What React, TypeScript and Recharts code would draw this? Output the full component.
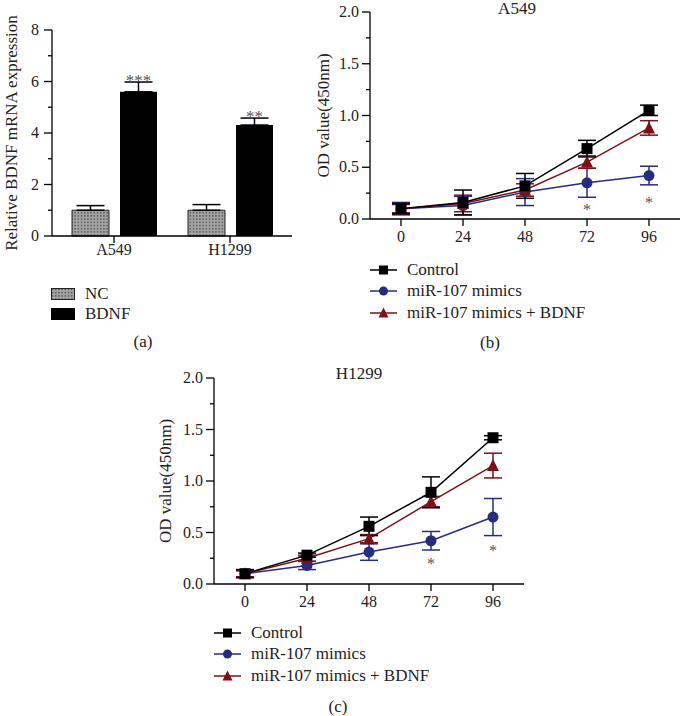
import {
  BarChart,
  Bar,
  ComposedChart,
  Line,
  XAxis,
  YAxis,
  ErrorBar,
  LabelList,
} from "recharts";

const FONT = "'Liberation Serif', 'Times New Roman', serif";
const BLACK = "#000000";
const NAVY = "#262c7e";
const DARKRED = "#7a1217";

// panel (a)
const cellLines = ["A549", "H1299"];
const ncValues = [1.0, 1.0];
const ncErrors = [0.18, 0.22];
const bdnfValues = [5.6, 4.31];
const bdnfErrors = [0.38, 0.27];
const bdnfSig = ["***", "**"];
const barTicks = [0, 1, 2, 3, 4, 5, 6, 7, 8];

// panels (b) and (c)
const hours = [0, 24, 48, 72, 96];
const odTicks = [0, 0.25, 0.5, 0.75, 1, 1.25, 1.5, 1.75, 2];
const hourTicks = [0, 24, 48, 72, 96];

const a549Control = [0.1, 0.16, 0.32, 0.68, 1.05];
const a549ControlErr = [0.05, 0.12, 0.12, 0.08, 0.05];
const a549Mimics = [0.1, 0.13, 0.26, 0.35, 0.42];
const a549MimicsErr = [0.06, 0.09, 0.13, 0.14, 0.09];
const a549Bdnf = [0.1, 0.15, 0.28, 0.55, 0.88];
const a549BdnfErr = [0.04, 0.08, 0.06, 0.06, 0.07];
const a549Star = [null, null, null, 0.14, 0.2];

const h1299Control = [0.1, 0.28, 0.56, 0.89, 1.42];
const h1299ControlErr = [0.04, 0.02, 0.09, 0.15, 0.02];
const h1299Mimics = [0.1, 0.18, 0.31, 0.42, 0.65];
const h1299MimicsErr = [0.03, 0.04, 0.08, 0.09, 0.18];
const h1299Bdnf = [0.1, 0.25, 0.44, 0.8, 1.15];
const h1299BdnfErr = [0.03, 0.03, 0.04, 0.05, 0.12];
const h1299Star = [null, null, null, 0.24, 0.37];

const legendItems = [
  { name: "Control", color: BLACK, shape: "square" },
  { name: "miR-107 mimics", color: NAVY, shape: "circle" },
  { name: "miR-107 mimics + BDNF", color: DARKRED, shape: "triangle" },
];

const barData = cellLines.map((c, i) => ({
  cell: c,
  nc: ncValues[i],
  ncErr: [0, ncErrors[i]],
  bdnf: bdnfValues[i],
  bdnfErr: [0, bdnfErrors[i]],
  sig: bdnfSig[i],
}));

function buildOd(control, cErr, mimics, mErr, bdnf, bErr, star) {
  return hours.map((t, i) => ({
    t,
    control: control[i],
    controlErr: cErr[i],
    mimics: mimics[i],
    mimicsErr: mErr[i],
    bdnf: bdnf[i],
    bdnfErr: bErr[i],
    star: star[i],
  }));
}

const a549Data = buildOd(a549Control, a549ControlErr, a549Mimics, a549MimicsErr, a549Bdnf, a549BdnfErr, a549Star);
const h1299Data = buildOd(h1299Control, h1299ControlErr, h1299Mimics, h1299MimicsErr, h1299Bdnf, h1299BdnfErr, h1299Star);

// y tick with long/short tick line, label only on majors
function makeYTick(isMajor, fmt, labelGap) {
  return (props) => {
    const { x, y, payload } = props;
    const major = isMajor(payload.value);
    return (
      <g>
        <line x1={x} x2={x - (major ? 8 : 4)} y1={y} y2={y} stroke="#000" strokeWidth={1.3} />
        {major && (
          <text x={x - labelGap} y={y} dy={5} textAnchor="end" fontFamily={FONT} fontSize={16} fill="#222">
            {fmt(payload.value)}
          </text>
        )}
      </g>
    );
  };
}

function Marker({ shape, cx, cy, color, size }) {
  if (cx == null || cy == null) return null;
  const h = size / 2;
  if (shape === "square") return <rect x={cx - h} y={cy - h} width={size} height={size} fill={color} />;
  if (shape === "circle") return <circle cx={cx} cy={cy} r={h} fill={color} />;
  return <path d={`M${cx},${cy - h - 1} L${cx + h + 0.5},${cy + h} L${cx - h - 0.5},${cy + h} Z`} fill={color} />;
}

function markerDot(shape, color) {
  return (p) => (
    <Marker key={`${shape}-${p.index}`} shape={shape} cx={p.cx} cy={p.cy} color={color} size={11} />
  );
}

function starDot(p) {
  if (p.value == null || p.cy == null) return <g key={`st-${p.index}`} />;
  return (
    <text key={`st-${p.index}`} x={p.cx} y={p.cy} dy={10} textAnchor="middle" fontFamily={FONT} fontSize={16} fill="#555" stroke="none">
      *
    </text>
  );
}

// significance marks above the upper error cap
function sigLabel(p) {
  const i = p.index;
  const pxPerUnit = p.height / bdnfValues[i];
  const capY = p.y - bdnfErrors[i] * pxPerUnit;
  return (
    <text key={`sig-${i}`} x={p.x + p.width / 2} y={capY + 4} textAnchor="middle" fontFamily={FONT} fontSize={17} fill="#555">
      {p.value}
    </text>
  );
}

function OdChart({ data, left, top, height, labelOffset }) {
  const axisStyle = { stroke: "#000", strokeWidth: 1.3 };
  return (
    <div style={{ position: "absolute", left, top }}>
      <ComposedChart width={391} height={height} data={data} margin={{ top: 12, right: 1, bottom: 0, left: 0 }}>
        <XAxis
          dataKey="t"
          type="number"
          domain={[-12, 108]}
          ticks={hourTicks}
          height={31}
          tickSize={7}
          tickMargin={5}
          axisLine={axisStyle}
          tickLine={axisStyle}
          tick={{ fontFamily: FONT, fontSize: 16, fill: "#222" }}
        />
        <YAxis
          type="number"
          domain={[0, 2]}
          ticks={odTicks}
          width={80}
          tickSize={0}
          tickMargin={0}
          axisLine={axisStyle}
          tickLine={false}
          interval={0}
          tick={makeYTick((v) => Math.abs(v * 2 - Math.round(v * 2)) < 1e-6, (v) => v.toFixed(1), 11)}
          label={{
            value: "OD value(450nm)",
            angle: -90,
            position: "insideLeft",
            offset: labelOffset,
            style: { textAnchor: "middle", fontFamily: FONT, fontSize: 17, fill: "#222" },
          }}
        />
        <Line dataKey="star" stroke="none" dot={starDot} isAnimationActive={false} legendType="none" />
        <Line dataKey="mimics" stroke={NAVY} strokeWidth={1.5} dot={markerDot("circle", NAVY)} isAnimationActive={false}>
          <ErrorBar dataKey="mimicsErr" direction="y" width={9} stroke={NAVY} strokeWidth={1.5} />
        </Line>
        <Line dataKey="bdnf" stroke={DARKRED} strokeWidth={1.5} dot={markerDot("triangle", DARKRED)} isAnimationActive={false}>
          <ErrorBar dataKey="bdnfErr" direction="y" width={9} stroke={DARKRED} strokeWidth={1.5} />
        </Line>
        <Line dataKey="control" stroke={BLACK} strokeWidth={1.5} dot={markerDot("square", BLACK)} isAnimationActive={false}>
          <ErrorBar dataKey="controlErr" direction="y" width={9} stroke={BLACK} strokeWidth={1.5} />
        </Line>
      </ComposedChart>
    </div>
  );
}

function OdLegend({ left, top }) {
  return (
    <div style={{ position: "absolute", left, top, fontFamily: FONT, fontSize: 17, color: "#222" }}>
      {legendItems.map((it) => (
        <div key={it.name} style={{ display: "flex", alignItems: "center", height: 21.5 }}>
          <svg width={27} height={14} style={{ marginRight: 10 }}>
            <line x1={0} x2={27} y1={7} y2={7} stroke={it.color} strokeWidth={1.5} />
            <Marker shape={it.shape} cx={13.5} cy={7} color={it.color} size={9} />
          </svg>
          <span>{it.name}</span>
        </div>
      ))}
    </div>
  );
}

const textAbs = (left, top, extra = {}) => ({
  position: "absolute",
  left,
  top,
  transform: "translate(-50%, -50%)",
  fontFamily: FONT,
  fontSize: 17,
  color: "#222",
  whiteSpace: "nowrap",
  ...extra,
});

export default function App() {
  const axisStyle = { stroke: "#000", strokeWidth: 1.3 };
  return (
    <div style={{ position: "absolute", left: 0, top: 0, width: 681, height: 716, background: "#fff", overflow: "hidden" }}>
      <svg width={0} height={0} style={{ position: "absolute" }}>
        <defs>
          <pattern id="dots" width={3.2} height={3.2} patternUnits="userSpaceOnUse">
            <rect width={3.2} height={3.2} fill="#a3a3a3" />
            <rect x={0.8} y={0.8} width={1.4} height={1.4} fill="#555" />
          </pattern>
        </defs>
      </svg>

      {/* (a) */}
      <div style={{ position: "absolute", left: 0, top: 0 }}>
        <BarChart
          width={300}
          height={266}
          data={barData}
          margin={{ top: 30, right: 8, bottom: 0, left: 0 }}
          barGap={11}
          barSize={37}
        >
          <XAxis
            dataKey="cell"
            height={30}
            padding={{ left: 4, right: 4 }}
            tickSize={7}
            tickMargin={1}
            axisLine={axisStyle}
            tickLine={axisStyle}
            tick={{ fontFamily: FONT, fontSize: 16, fill: "#222" }}
          />
          <YAxis
            type="number"
            domain={[0, 8]}
            ticks={barTicks}
            width={52}
            tickSize={0}
            tickMargin={0}
            interval={0}
            axisLine={axisStyle}
            tickLine={false}
            tick={makeYTick((v) => v % 2 === 0, (v) => String(v), 13)}
            label={{
              value: "Relative BDNF mRNA expression",
              angle: -90,
              position: "insideLeft",
              offset: 11,
              style: { textAnchor: "middle", fontFamily: FONT, fontSize: 17, fill: "#222" },
            }}
          />
          <Bar dataKey="nc" fill="url(#dots)" stroke="#222" strokeWidth={1} isAnimationActive={false}>
            <ErrorBar dataKey="ncErr" direction="y" width={14} stroke="#000" strokeWidth={1.5} />
          </Bar>
          <Bar dataKey="bdnf" fill="#000" isAnimationActive={false}>
            <ErrorBar dataKey="bdnfErr" direction="y" width={14} stroke="#000" strokeWidth={1.5} />
            <LabelList dataKey="sig" content={sigLabel} />
          </Bar>
        </BarChart>
      </div>
      <div style={{ position: "absolute", left: 51, top: 284, fontFamily: FONT, fontSize: 17, color: "#222" }}>
        <div style={{ display: "flex", alignItems: "center", height: 20 }}>
          <svg width={24} height={12} style={{ marginRight: 10 }}>
            <rect x={0.5} y={0.5} width={23} height={11} fill="url(#dots)" stroke="#222" />
          </svg>
          <span>NC</span>
        </div>
        <div style={{ display: "flex", alignItems: "center", height: 20 }}>
          <svg width={24} height={12} style={{ marginRight: 10 }}>
            <rect x={0} y={0} width={24} height={12} fill="#000" />
          </svg>
          <span>BDNF</span>
        </div>
      </div>
      <div style={textAbs(143, 342)}>(a)</div>

      {/* (b) */}
      <OdChart data={a549Data} left={290} top={0} height={250} labelOffset={33} />
      <div style={textAbs(517, 9)}>A549</div>
      <OdLegend left={370} top={259} />
      <div style={textAbs(490, 343)}>(b)</div>

      {/* (c) */}
      <OdChart data={h1299Data} left={134} top={366} height={249} labelOffset={31} />
      <div style={textAbs(359, 374)}>H1299</div>
      <OdLegend left={214} top={622} />
      <div style={textAbs(338, 707)}>(c)</div>
    </div>
  );
}
